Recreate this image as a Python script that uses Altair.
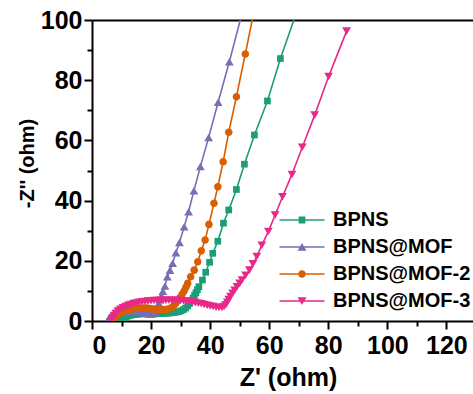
import altair as alt
import pandas as pd

series_names = ["BPNS", "BPNS@MOF", "BPNS@MOF-2", "BPNS@MOF-3"]
series_colors = ["#1b9e77", "#7570b3", "#d95f02", "#e7298a"]

bpns_x = [9.8, 10.3, 10.9, 11.6, 12.4, 13.2, 14.1, 15.0, 15.9, 16.8, 17.7, 18.6, 19.5, 20.4, 21.3, 22.2,
          23.1, 24.0, 24.9, 25.8, 26.7, 27.6, 28.5, 29.4, 30.2, 31.0, 31.7, 32.4, 33.0, 33.6, 34.2, 34.7,
          35.2, 35.7, 36.2, 37.4, 38.5, 39.8, 40.9, 42.6, 44.5, 46.3, 48.9, 51.6, 55.0, 59.4, 63.8, 70.5]
bpns_y = [0.2, 0.7, 1.1, 1.4, 1.7, 1.9, 2.1, 2.2, 2.3, 2.4, 2.4, 2.5, 2.5, 2.5, 2.5, 2.5,
          2.5, 2.5, 2.6, 2.6, 2.7, 2.8, 2.9, 3.1, 3.4, 3.8, 4.3, 5.0, 5.8, 6.7, 7.6, 8.5,
          9.4, 10.4, 11.4, 13.6, 16.2, 19.5, 22.5, 26.5, 32.5, 36.9, 43.7, 52.1, 61.8, 73.1, 87.2, 106]

mof_x = [5.3, 5.7, 6.2, 6.8, 7.5, 8.2, 9.0, 9.8, 10.7, 11.6, 12.5, 13.4, 14.3, 15.2, 16.1, 17.0,
         17.9, 18.8, 19.6, 20.3, 20.9, 21.4, 21.8, 22.2, 22.6, 23.0, 23.5, 24.0, 24.7, 25.5, 26.4,
         27.3, 28.4, 29.6, 31.2, 32.7, 34.5, 36.7, 39.5, 42.7, 46.5, 51.8]
mof_y = [0.2, 0.9, 1.5, 2.0, 2.4, 2.7, 2.9, 3.1, 3.2, 3.3, 3.3, 3.3, 3.2, 3.1, 3.0, 2.8,
         2.6, 2.4, 2.3, 2.3, 2.5, 3.0, 3.8, 4.8, 5.9, 7.1, 8.4, 9.9, 11.6, 14.7, 16.9,
         19.2, 22.7, 26.1, 31.3, 36.3, 43.3, 51.3, 61.0, 72.7, 86.1, 106]

mof2_x = [7.2, 7.6, 8.1, 8.7, 9.4, 10.2, 11.0, 11.9, 12.8, 13.7, 14.6, 15.5, 16.4, 17.3, 18.2, 19.1,
          20.0, 20.9, 21.8, 22.7, 23.6, 24.5, 25.4, 26.2, 27.0, 27.7, 28.4, 29.1, 29.8, 30.5, 31.2,
          31.8, 32.4, 33.4, 34.6, 35.8, 37.0, 38.3, 39.6, 41.3, 42.6, 44.4, 46.3, 48.9, 51.9, 55.5]
mof2_y = [0.2, 0.9, 1.6, 2.2, 2.7, 3.1, 3.4, 3.7, 3.9, 4.1, 4.2, 4.3, 4.3, 4.3, 4.3, 4.2,
          4.1, 4.0, 3.9, 3.8, 3.8, 3.8, 3.9, 4.1, 4.5, 5.1, 5.9, 6.8, 7.8, 8.9, 10.0,
          11.2, 12.5, 14.7, 16.9, 19.7, 23.3, 26.9, 32.1, 39.1, 44.6, 52.9, 62.7, 74.5, 88.7, 106]

mof3_x = [6.6, 7.0, 7.5, 8.1, 8.8, 9.6, 10.5, 11.4, 12.3, 13.2, 14.1, 15.0, 16.0, 17.0, 18.0, 19.0,
          20.0, 21.0, 22.0, 23.0, 24.0, 25.0, 26.0, 27.0, 28.0, 29.0, 30.0, 31.0, 32.0, 33.0, 34.0,
          35.0, 36.0, 37.0, 38.0, 39.0, 40.0, 41.0, 42.0, 43.0, 44.0, 44.7, 45.3, 45.8, 46.3, 46.9,
          47.6, 48.3, 49.1, 50.0, 50.8, 52.0, 53.3, 54.5, 55.8, 57.5, 59.7, 62.0, 64.5, 67.7, 71.2,
          75.4, 80.1, 86.2]
mof3_y = [0.2, 1.0, 1.8, 2.6, 3.3, 3.9, 4.4, 4.8, 5.2, 5.5, 5.8, 6.0, 6.2, 6.4, 6.5, 6.6,
          6.7, 6.8, 6.8, 6.9, 6.9, 6.9, 6.9, 6.9, 6.9, 6.8, 6.8, 6.7, 6.6, 6.5, 6.3,
          6.1, 5.9, 5.7, 5.5, 5.2, 5.0, 4.8, 4.6, 4.5, 4.5, 4.8, 5.4, 6.2, 7.1, 8.1,
          9.2, 10.2, 11.4, 12.5, 13.6, 15.2, 16.9, 19.0, 21.4, 25.2, 29.7, 35.2, 41.3, 48.7, 57.7,
          68.4, 81.2, 96.3]

x_major_ticks = [0, 20, 40, 60, 80, 100, 120]
x_minor_ticks = [10, 30, 50, 70, 90, 110]
y_major_ticks = [0, 20, 40, 60, 80, 100]
y_minor_ticks = [10, 30, 50, 70, 90]

rows = []
for name, xs, ys in zip(series_names, [bpns_x, mof_x, mof2_x, mof3_x],
                        [bpns_y, mof_y, mof2_y, mof3_y]):
    for i, (a, b) in enumerate(zip(xs, ys)):
        rows.append({"series": name, "zr": a, "zi": b, "idx": i})
df = pd.DataFrame(rows)

FONT = "Liberation Sans"

# marker shapes (unit paths) for the plot
marker_paths = [
    "M-0.8,-0.8H0.8V0.8H-0.8Z",
    "M0,-0.9L1.05,0.9L-1.05,0.9Z",
    "M0.9,0A0.9,0.9,0,1,1,-0.9,0A0.9,0.9,0,1,1,0.9,0Z",
    "M0,0.9L-1.05,-0.9L1.05,-0.9Z",
]
# legend symbols: a thin bar (the line) with the marker on it
BAR = "M-4.5,-0.16H4.5V0.16H-4.5Z"
legend_paths = [
    BAR + "M-0.68,-0.68H0.68V0.68H-0.68Z",
    BAR + "M0,-0.8L0.9,0.75L-0.9,0.75Z",
    BAR + "M0.75,0A0.75,0.75,0,1,1,-0.75,0A0.75,0.75,0,1,1,0.75,0Z",
    BAR + "M0,0.8L-0.9,-0.75L0.9,-0.75Z",
]

x_scale = alt.Scale(domain=[0, 129], nice=False, zero=False)
y_scale = alt.Scale(domain=[0, 100], nice=False, zero=False)
color_scale = alt.Scale(domain=series_names, range=series_colors)

x_major = alt.Axis(values=x_major_ticks, tickSize=8, labelPadding=24, labelBaseline="alphabetic",
                   title="Z' (ohm)", titleX=196, titleY=64, titleBaseline="alphabetic",
                   titleAlign="center", orient="bottom")
x_minor = alt.Axis(values=x_minor_ticks, tickSize=5, labels=False, domain=False, title=None,
                   orient="bottom")
x_top = alt.Axis(orient="top", ticks=False, labels=False, domain=True, title=None)
y_major = alt.Axis(values=y_major_ticks, tickSize=8, labelPadding=2, title="-Z'' (ohm)",
                   titleX=-55, titleY=143, titleAngle=270, titleBaseline="bottom",
                   titleAlign="center", titleFontSize=20, orient="left")
y_minor = alt.Axis(values=y_minor_ticks, tickSize=5, labels=False, domain=False, title=None,
                   orient="left")

base = alt.Chart(df)

lines = base.mark_line(strokeWidth=1.6, clip=True).encode(
    x=alt.X("zr:Q", scale=x_scale, axis=x_major),
    y=alt.Y("zi:Q", scale=y_scale, axis=y_major),
    color=alt.Color("series:N", scale=color_scale, legend=None),
    detail="series:N",
    order="idx:Q",
)

points = base.mark_point(filled=True, size=70, opacity=1, clip=True).encode(
    x=alt.X("zr:Q", scale=x_scale, axis=x_top),
    y=alt.Y("zi:Q", scale=y_scale, axis=y_minor),
    color=alt.Color("series:N", scale=color_scale, legend=None),
    shape=alt.Shape("series:N", scale=alt.Scale(domain=series_names, range=marker_paths), legend=None),
)

leg = alt.Legend(title=None, orient="none", legendX=200, legendY=190, padding=0,
                 labelFont=FONT, labelFontSize=20, labelFontWeight="bold", labelColor="black",
                 symbolSize=100, symbolStrokeWidth=0, labelOffset=21, rowPadding=7,
                 symbolOpacity=1)

legend_layer = base.mark_point(filled=True, opacity=1).encode(
    x=alt.X("zr:Q", scale=x_scale, axis=x_minor),
    y=alt.Y("zi:Q", scale=y_scale, axis=None),
    color=alt.Color("series:N", scale=color_scale, legend=leg),
    shape=alt.Shape("series:N", scale=alt.Scale(domain=series_names, range=legend_paths), legend=leg),
).transform_filter("datum.zr < -1000")

chart = alt.layer(lines, points, legend_layer).resolve_axis(
    x="independent", y="independent"
).resolve_scale(shape="independent", color="independent").properties(
    width=381, height=301,
    autosize=alt.AutoSizeParams(type="none"),
    padding={"left": 92, "top": 20, "right": 0, "bottom": 73},
    background="white",
).configure_view(stroke=None).configure_axis(
    grid=False, domainColor="black", domainWidth=2, tickColor="black", tickWidth=2,
    labelFont=FONT, labelFontSize=25, labelFontWeight="bold", labelColor="black",
    titleFont=FONT, titleFontSize=25, titleFontWeight="bold", titleColor="black",
)

chart.save("out.html", embed_options={"renderer": "svg", "actions": False})
